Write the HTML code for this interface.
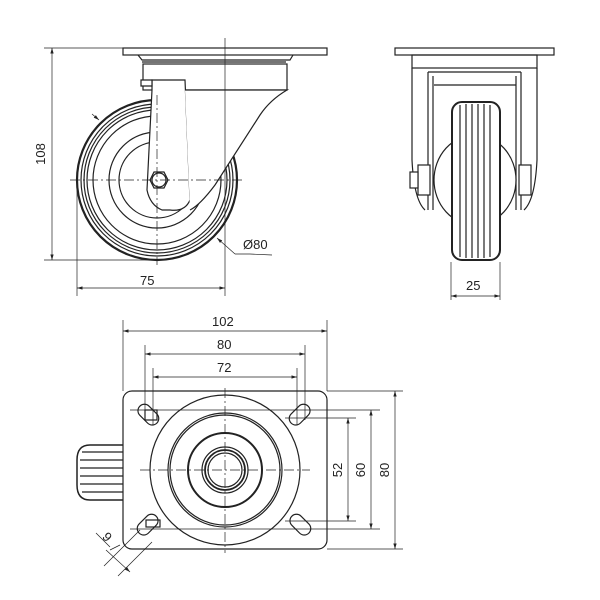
<!DOCTYPE html><html><head><style>html,body{margin:0;padding:0;background:#fff}svg{display:block}text{font-family:"Liberation Sans",sans-serif;font-size:13px;fill:#222}</style></head><body>
<svg width="600" height="600" viewBox="0 0 600 600" xmlns="http://www.w3.org/2000/svg">
<defs><marker id="a" viewBox="0 0 10 10" refX="10" refY="5" markerWidth="8" markerHeight="8" orient="auto-start-reverse"><path d="M0,2 L10,5 L0,8z" fill="#222"/></marker></defs>
<g fill="none" stroke="#222" stroke-width="1.2">
<rect x="123" y="48" width="204" height="7"/>
<path d="M138,55 L142,60 L290,60 L293,55"/>
<line x1="142" y1="62" x2="286" y2="62"/>
<rect x="143" y="64" width="144" height="26"/>
<circle cx="157" cy="180" r="80" stroke-width="2.2"/>
<circle cx="157" cy="180" r="76"/><circle cx="157" cy="180" r="73"/><circle cx="157" cy="180" r="70"/>
<circle cx="157" cy="180" r="64"/><circle cx="157" cy="180" r="48"/><circle cx="157" cy="180" r="38"/>
<path d="M152,80 L185,80 L190,200 Q185,212 170,210 L162,210 Q150,205 147,190 L152,90z" fill="#fff"/>
<path d="M141,80 L152,80 L152,86 L141,86z" fill="#fff"/>
<path d="M185,90 L287,90 Q270,100 260,115 L215,185 Q200,205 190,210" fill="#fff"/>
<polygon points="150,180 154,172 164,172 168,180 164,188 154,188" fill="#fff"/>
<circle cx="159" cy="180" r="7"/>
</g>
<g stroke="#222" stroke-width="0.7" fill="none">
<line x1="225" y1="38" x2="225" y2="296"/>
<line x1="70" y1="180" x2="245" y2="180" stroke-dasharray="10,3,2,3"/>
<line x1="157" y1="95" x2="157" y2="265" stroke-dasharray="10,3,2,3"/>
<line x1="44" y1="48" x2="123" y2="48"/><line x1="44" y1="260" x2="160" y2="260"/>
<line x1="52" y1="48" x2="52" y2="260" marker-start="url(#a)" marker-end="url(#a)"/>
<line x1="77" y1="180" x2="77" y2="296"/>
<line x1="77" y1="288" x2="225" y2="288" marker-start="url(#a)" marker-end="url(#a)"/>
<path d="M235,254 L250,254 L272,255" /><line x1="217" y1="238" x2="235" y2="254" marker-start="url(#a)"/>
<line x1="92" y1="114" x2="99" y2="120" marker-end="url(#a)"/>
</g>
<text x="140" y="285">75</text><text x="243" y="249">Ø80</text>
<text transform="translate(45,154) rotate(-90)" text-anchor="middle">108</text>
<g fill="none" stroke="#222" stroke-width="1.2">
<rect x="395" y="48" width="159" height="7"/>
<rect x="412" y="55" width="125" height="13"/>
<path d="M412,68 L412,160 Q414,200 425,210 M537,68 L537,160 Q535,200 524,210"/>
<path d="M428,72 L521,72 M428,72 L428,210 M433,76 L433,210 M521,72 L521,210 M516,76 L516,210"/>
<line x1="434" y1="85" x2="516" y2="85"/>
<ellipse cx="475" cy="180" rx="41" ry="45" fill="#fff"/>
<rect x="452" y="102" width="48" height="158" rx="10" fill="#fff" stroke-width="2"/>
<path d="M460,105 V257 M466,104 V258 M472,104 V258 M478,104 V258 M484,104 V258 M490,105 V257"/>
<rect x="418" y="165" width="12" height="30" fill="#fff"/><rect x="410" y="172" width="8" height="16" fill="#fff"/>
<rect x="519" y="165" width="12" height="30" fill="#fff"/>
</g>
<g stroke="#222" stroke-width="0.7" fill="none">
<line x1="451" y1="262" x2="451" y2="300"/><line x1="500" y1="262" x2="500" y2="300"/>
<line x1="451" y1="296" x2="500" y2="296" marker-start="url(#a)" marker-end="url(#a)"/>
</g>
<text x="466" y="290">25</text>
<g fill="none" stroke="#222" stroke-width="1.2">
<path d="M123,445 L90,445 Q77,445 77,460 L77,485 Q77,500 90,500 L123,500" stroke-width="1.5"/>
<path d="M82,452 H123 M80,460 H123 M80,468 H123 M80,476 H123 M80,484 H123 M82,492 H123"/>
<rect x="123" y="391" width="204" height="158" rx="9" fill="#fff"/>
<circle cx="225" cy="470" r="75"/><circle cx="225" cy="470" r="57"/><circle cx="225" cy="470" r="55"/>
<circle cx="225" cy="470" r="37" stroke-width="2"/><circle cx="225" cy="470" r="23"/><circle cx="225" cy="470" r="20" stroke-width="1.8"/><circle cx="225" cy="470" r="17"/>
<rect x="136" y="408" width="24" height="13" rx="6.5" transform="rotate(45 148 415)"/>
<rect x="288" y="408" width="24" height="13" rx="6.5" transform="rotate(-45 300 415)"/>
<rect x="136" y="518" width="24" height="13" rx="6.5" transform="rotate(-45 148 525)"/>
<rect x="288" y="518" width="24" height="13" rx="6.5" transform="rotate(45 300 525)"/>
<rect x="145" y="410" width="12" height="10"/><rect x="146" y="520" width="14" height="7"/>
</g>
<g stroke="#222" stroke-width="0.7" fill="none">
<line x1="225" y1="388" x2="225" y2="553" stroke-dasharray="10,3,2,3"/>
<line x1="140" y1="470" x2="310" y2="470" stroke-dasharray="10,3,2,3"/>
<line x1="123" y1="320" x2="123" y2="391"/><line x1="327" y1="320" x2="327" y2="391"/>
<line x1="145" y1="345" x2="145" y2="420"/><line x1="305" y1="345" x2="305" y2="420"/>
<line x1="153" y1="368" x2="153" y2="425"/><line x1="297" y1="368" x2="297" y2="425"/>
<line x1="123" y1="331" x2="327" y2="331" marker-start="url(#a)" marker-end="url(#a)"/>
<line x1="145" y1="354" x2="305" y2="354" marker-start="url(#a)" marker-end="url(#a)"/>
<line x1="153" y1="377" x2="297" y2="377" marker-start="url(#a)" marker-end="url(#a)"/>
<line x1="327" y1="391" x2="403" y2="391"/><line x1="327" y1="549" x2="403" y2="549"/>
<line x1="130" y1="410" x2="380" y2="410"/><line x1="130" y1="529" x2="380" y2="529"/>
<line x1="285" y1="418" x2="356" y2="418"/><line x1="285" y1="521" x2="356" y2="521"/>
<line x1="395" y1="391" x2="395" y2="549" marker-start="url(#a)" marker-end="url(#a)"/>
<line x1="371" y1="410" x2="371" y2="529" marker-start="url(#a)" marker-end="url(#a)"/>
<line x1="348" y1="418" x2="348" y2="521" marker-start="url(#a)" marker-end="url(#a)"/>
<line x1="140" y1="530" x2="104" y2="566"/><line x1="152" y1="542" x2="118" y2="576"/>
<line x1="96" y1="533" x2="110" y2="547" /><line x1="106" y1="550" x2="130" y2="572" marker-end="url(#a)"/>
<line x1="120" y1="545" x2="110" y2="550"/>
</g>
<text x="212" y="326">102</text><text x="217" y="349">80</text><text x="217" y="372">72</text>
<text transform="translate(389,470) rotate(-90)" text-anchor="middle">80</text>
<text transform="translate(365,470) rotate(-90)" text-anchor="middle">60</text>
<text transform="translate(342,470) rotate(-90)" text-anchor="middle">52</text>
<text transform="translate(104,540) rotate(45)" text-anchor="middle">9</text>
</svg></body></html>
